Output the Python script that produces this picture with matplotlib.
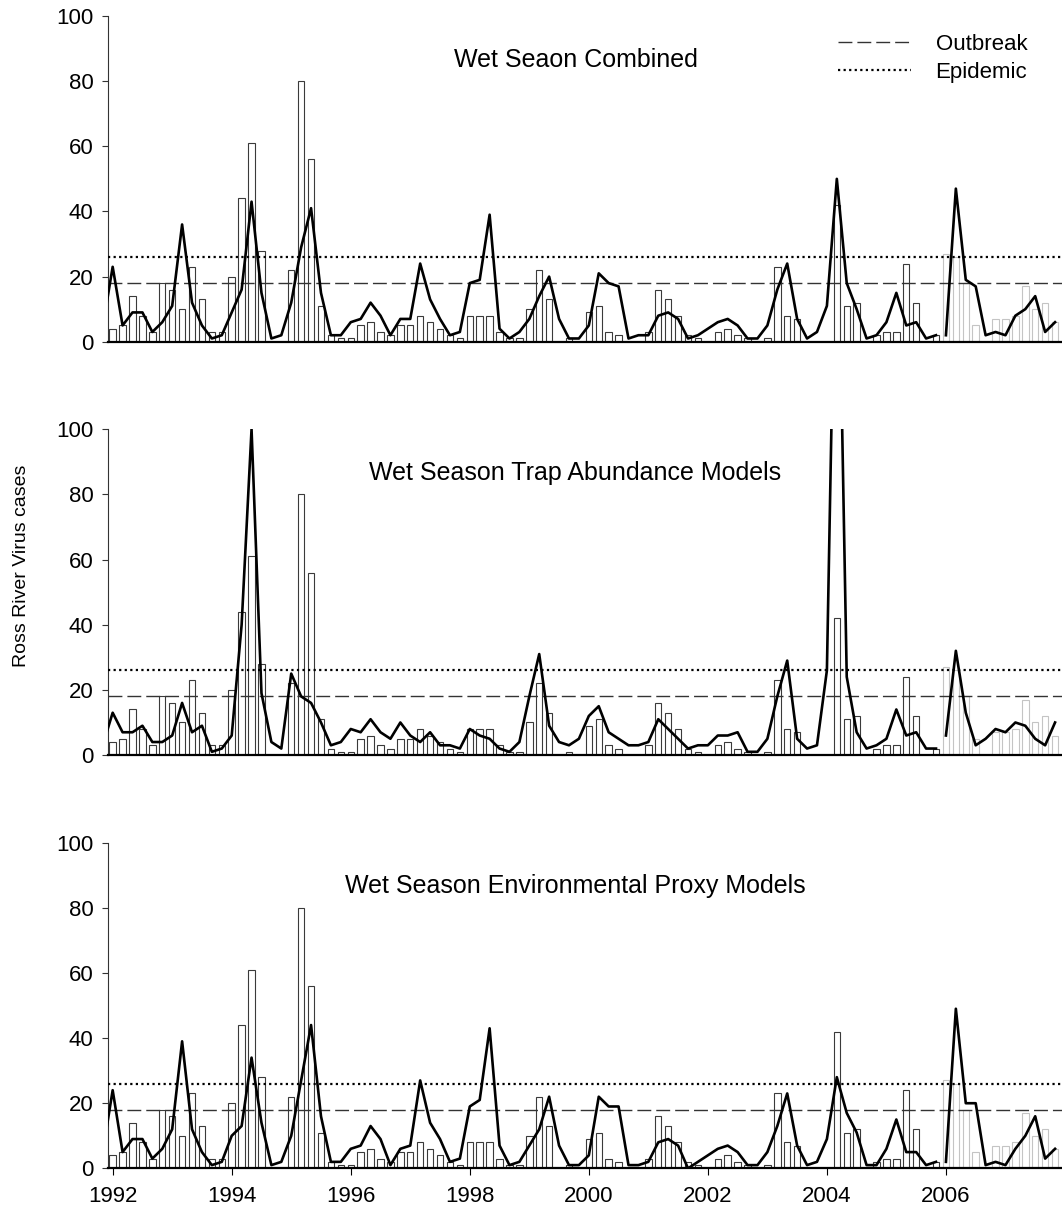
import numpy as np
import matplotlib.pyplot as plt
from matplotlib.lines import Line2D

plt.rcParams["font.family"] = ["Liberation Sans", "DejaVu Sans"]

# bimonthly series, Jan 1992 .. Nov 2007 (6 values per year)
observed = [4, 5, 14, 8, 3, 18, 16, 10, 23, 13, 3, 3, 20, 44, 61, 28,
            0, 0, 22, 80, 56, 11, 2, 1, 1, 5, 6, 3, 2, 5, 5, 8,
            6, 4, 2, 1, 8, 8, 8, 3, 1, 1, 10, 22, 13, 0, 1, 0,
            9, 11, 3, 2, 0, 0, 3, 16, 13, 8, 2, 1, 0, 3, 4,
            2, 1, 0, 1, 23, 8, 7, 0, 0, 0, 42, 11, 12, 0, 2, 3,
            3, 24, 12, 0, 2, 27, 26, 18, 5, 0, 7, 7, 8, 17, 10, 12, 6]

# model predictions start one step earlier (Nov 1991)
pred_combined = [4.5,
                 23, 5, 9, 9, 3, 6, 11, 36, 12, 5, 1, 2, 9, 16, 43, 15,
                 1, 2, 12, 29, 41, 15, 2, 2, 6, 7, 12, 8, 2, 7, 7, 24,
                 13, 7, 2, 3, 18, 19, 39, 4, 1, 3, 7, 14, 20, 7, 1, 1,
                 5, 21, 18, 17, 1, 2, 2, 8, 9, 7, 1, 2, 4, 6, 7,
                 5, 1, 1, 5, 16, 24, 7, 1, 3, 11, 50, 18, 10, 1, 2, 6,
                 15, 5, 6, 1, 2,
                 2, 47, 19, 17, 2, 3, 2, 8, 10, 14, 3, 6]
pred_trap = [3,
             13, 7, 7, 9, 4, 4, 6, 16, 7, 9, 1, 2, 6, 40, 100, 19,
             4, 2, 25, 18, 16, 10, 3, 4, 8, 7, 11, 7, 5, 10, 6, 4,
             7, 3, 3, 2, 8, 6, 5, 2, 1, 4, 18, 31, 9, 4, 3, 5,
             12, 15, 7, 5, 3, 3, 4, 11, 8, 5, 2, 3, 3, 6, 6,
             7, 1, 1, 5, 18, 29, 5, 2, 3, 26, 190, 24, 7, 2, 3, 5,
             14, 6, 7, 2, 2,
             6, 32, 13, 3, 5, 8, 7, 10, 9, 5, 3, 10]
pred_env = [5,
            24, 5, 9, 9, 3, 6, 12, 39, 12, 5, 1, 2, 10, 13, 34, 14,
            1, 2, 10, 27, 44, 16, 2, 2, 6, 7, 13, 9, 1, 6, 7, 27,
            14, 9, 2, 3, 19, 21, 43, 7, 1, 2, 7, 12, 22, 7, 1, 1,
            4, 22, 19, 19, 1, 1, 2, 8, 9, 7, 0, 2, 4, 6, 7,
            5, 1, 1, 5, 13, 23, 7, 1, 2, 9, 28, 17, 11, 1, 1, 6,
            15, 5, 5, 1, 2,
            2, 49, 20, 20, 1, 2, 1, 6, 10, 16, 3, 6]

titles = ["Wet Seaon Combined", "Wet Season Trap Abundance Models",
          "Wet Season Environmental Proxy Models"]
outbreak = 18
epidemic = 26
split_year = 2006
year_ticks = [1992, 1994, 1996, 1998, 2000, 2002, 2004, 2006]

years = 1992 + np.arange(len(observed)) / 6
pred_years = 1992 + np.arange(-1, len(observed)) / 6
obs = np.array(observed)
train = years < split_year

fig = plt.figure(figsize=(10.62, 12.11), dpi=100)
bottoms = [0.7178, 0.3765, 0.0352]
preds = [pred_combined, pred_trap, pred_env]

for i, (b, pred, title) in enumerate(zip(bottoms, preds, titles)):
    ax = fig.add_axes([0.1017, b, 0.8983, 0.269])
    pred = np.array(pred, dtype=float)
    w = 0.65 / 6
    ax.bar(years[train], obs[train], width=w, color="white",
           edgecolor="#3a3a3a", linewidth=0.8, zorder=2)
    ax.bar(years[~train], obs[~train], width=w, color="white",
           edgecolor="#c4c4c4", linewidth=0.8, zorder=2)
    ax.axhline(outbreak, color="#333333", lw=1.0, dashes=(10, 3.6), zorder=3)
    ax.axhline(epidemic, color="black", lw=1.6, dashes=(1, 1.5), zorder=3)
    seg1 = pred_years < split_year
    ax.plot(pred_years[seg1], pred[seg1], color="black", lw=1.9, zorder=4)
    ax.plot(pred_years[~seg1], pred[~seg1], color="black", lw=1.9, zorder=4)

    ax.set_xlim(1992 - 0.47 / 6, 1992 + 95.7 / 6)
    ax.set_ylim(0, 100)
    ax.set_yticks([0, 20, 40, 60, 80, 100])
    ax.tick_params(axis="y", direction="out", length=4.5, width=0.8,
                   labelsize=16, color="#333333", pad=6)
    for s in ["top", "right"]:
        ax.spines[s].set_visible(False)
    ax.spines["left"].set_color("#333333")
    ax.spines["left"].set_linewidth(0.8)
    ax.spines["bottom"].set_linewidth(1.6)
    ax.spines["bottom"].set_color("black")
    ax.spines["bottom"].set_zorder(5)
    if i == 2:
        ax.set_xticks(year_ticks)
        ax.tick_params(axis="x", direction="out", length=5, width=0.8,
                       labelsize=16, pad=8)
    else:
        ax.set_xticks([])
    ax.text(0.49, 0.866, title, transform=ax.transAxes, fontsize=18,
            ha="center", va="center")
    if i == 0:
        handles = [Line2D([], [], color="#333333", lw=1.0, dashes=(10, 3.6)),
                   Line2D([], [], color="black", lw=1.6, dashes=(1, 1.5))]
        ax.legend(handles, ["Outbreak", "Epidemic"], loc="upper right",
                  bbox_to_anchor=(0.973, 0.972), frameon=False, fontsize=16,
                  handlelength=3.3, handletextpad=1.1, labelspacing=0.3,
                  borderaxespad=0)

fig.text(0.02, 0.533, "Ross River Virus cases", rotation=90, fontsize=14,
         ha="center", va="center")

fig.savefig("out.png", dpi=100)
